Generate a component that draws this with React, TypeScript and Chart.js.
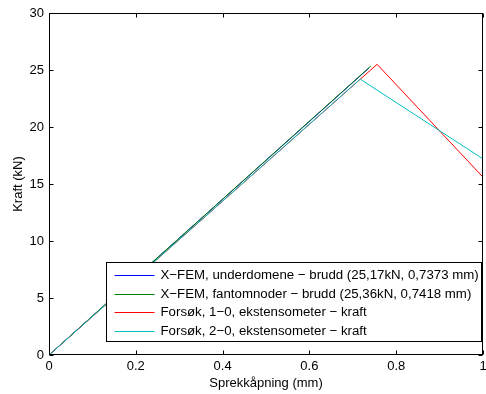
import React, { useEffect, useRef } from 'react';
import { Chart, registerables } from 'chart.js';

Chart.register(...registerables);

// Data (x: crack opening in mm, y: force in kN)
const blueX = [0, 0.7373];
const blueY = [0, 25.17];
const greenX = [0, 0.7418];
const greenY = [0, 25.36];
const redX = [0, 0.756, 1];
const redY = [0, 25.5, 15.6];
const cyanX = [0, 0.717, 1];
const cyanY = [0, 24.2, 17.2];

const seriesLabels = [
  'X\u2212FEM, underdomene \u2212 brudd (25,17kN, 0,7373 mm)',
  'X\u2212FEM, fantomnoder \u2212 brudd (25,36kN, 0,7418 mm)',
  'Fors\u00f8k, 1\u22120, ekstensometer \u2212 kraft',
  'Fors\u00f8k, 2\u22120, ekstensometer \u2212 kraft',
];
const seriesColors = ['rgb(0,0,255)', 'rgb(0,128,0)', 'rgb(255,0,0)', 'rgb(0,191,191)'];

const xTicks = [0, 0.2, 0.4, 0.6, 0.8, 1];
const xTickLabels = ['0', '0.2', '0.4', '0.6', '0.8', '1'];
const yTicks = [0, 5, 10, 15, 20, 25, 30];
const yTickLabels = ['0', '5', '10', '15', '20', '25', '30'];

const xTitle = 'Sprekkåpning (mm)';
const yTitle = 'Kraft (kN)';

const FONT = '"Liberation Sans", Arial, Helvetica, sans-serif';

const toPoints = (xs: number[], ys: number[]) => xs.map((x, i) => ({ x, y: ys[i] }));

const framePlugin = {
  id: 'matlabFrame',
  afterDatasetsDraw(chart: any) {
    const { ctx, chartArea: a, scales } = chart;
    const x = scales.x;
    const y = scales.y;
    const L = Math.round(a.left) + 0.5;
    const R = Math.round(a.right) - 0.5;
    const T = Math.round(a.top) + 0.5;
    const B = Math.round(a.bottom) - 0.5;
    ctx.save();
    ctx.strokeStyle = '#000';
    ctx.lineWidth = 1;
    ctx.beginPath();
    const tl = 4;
    xTicks.forEach((v) => {
      const px = Math.round(x.getPixelForValue(v)) + 0.5;
      ctx.moveTo(px, B);
      ctx.lineTo(px, B - tl);
      ctx.moveTo(px, T);
      ctx.lineTo(px, T + tl);
    });
    yTicks.forEach((v) => {
      const py = Math.round(y.getPixelForValue(v)) + 0.5;
      ctx.moveTo(L, py);
      ctx.lineTo(L + tl, py);
      ctx.moveTo(R, py);
      ctx.lineTo(R - tl, py);
    });
    ctx.stroke();
    ctx.strokeRect(L, T, R - L, B - T);

    // Legend box (MATLAB style, lower right inside axes)
    ctx.font = '13.25px ' + FONT;
    const maxW = Math.max(...seriesLabels.map((s) => ctx.measureText(s).width));
    const padL = 8;
    const lineLen = 40;
    const gap = 6;
    const padR = 3;
    const boxW = padL + lineLen + gap + maxW + padR;
    const rowH = 18.7;
    const boxH = 80;
    const boxRight = Math.round(a.right) - 1.5;
    const boxBottom = Math.round(a.bottom) - 13.5;
    const boxLeft = Math.round(boxRight - boxW) + 0.5;
    const boxTop = Math.round(boxBottom - boxH) + 0.5;
    ctx.fillStyle = '#fff';
    ctx.fillRect(boxLeft, boxTop, boxRight - boxLeft, boxBottom - boxTop);
    ctx.strokeStyle = '#000';
    ctx.strokeRect(boxLeft, boxTop, boxRight - boxLeft, boxBottom - boxTop);
    ctx.textBaseline = 'middle';
    ctx.textAlign = 'left';
    seriesLabels.forEach((label, i) => {
      const cy = Math.round(boxTop + 12.5 + i * rowH) + 0.5;
      ctx.strokeStyle = seriesColors[i];
      ctx.beginPath();
      ctx.moveTo(boxLeft + padL, cy);
      ctx.lineTo(boxLeft + padL + lineLen, cy);
      ctx.stroke();
      ctx.fillStyle = '#000';
      ctx.fillText(label, boxLeft + padL + lineLen + gap, cy);
    });
    ctx.restore();
  },
};

export default function App() {
  const ref = useRef<HTMLCanvasElement | null>(null);
  useEffect(() => {
    document.body.style.margin = '0';
    const canvas = ref.current;
    if (!canvas) return;
    const xs = [blueX, greenX, redX, cyanX];
    const ys = [blueY, greenY, redY, cyanY];
    const chart = new Chart(canvas, {
      type: 'scatter',
      data: {
        datasets: seriesLabels.map((label, i) => ({
          label,
          data: toPoints(xs[i], ys[i]),
          showLine: true,
          borderColor: seriesColors[i],
          backgroundColor: seriesColors[i],
          borderWidth: 1,
          pointRadius: 0,
          pointHoverRadius: 0,
          tension: 0,
          order: 4 - i,
        })),
      },
      options: {
        animation: false,
        responsive: false,
        devicePixelRatio: 1,
        layout: { padding: { left: 0, right: 3, top: 13, bottom: 0 } },
        plugins: {
          legend: { display: false },
          tooltip: { enabled: false },
        },
        scales: {
          x: {
            type: 'linear',
            min: 0,
            max: 1,
            grid: { display: false, drawTicks: false },
            border: { display: false },
            afterBuildTicks: (s: any) => {
              s.ticks = xTicks.map((v) => ({ value: v }));
            },
            afterFit: (s: any) => {
              s.height = 39;
              s.paddingLeft = 0;
              s.paddingRight = 0;
            },
            ticks: {
              autoSkip: false,
              maxRotation: 0,
              padding: 4,
              color: '#000',
              font: { family: FONT, size: 13 },
              callback: (v: any) => {
                const idx = xTicks.indexOf(Number(v));
                return idx >= 0 ? xTickLabels[idx] : '';
              },
            },
            title: {
              display: true,
              text: xTitle,
              color: '#000',
              font: { family: FONT, size: 13 },
              padding: { top: 0, bottom: 3 },
            },
          },
          y: {
            type: 'linear',
            min: 0,
            max: 30,
            grid: { display: false, drawTicks: false },
            border: { display: false },
            afterBuildTicks: (s: any) => {
              s.ticks = yTicks.map((v) => ({ value: v }));
            },
            afterFit: (s: any) => {
              s.width = 49;
              s.paddingTop = 0;
              s.paddingBottom = 0;
            },
            ticks: {
              autoSkip: false,
              padding: 5,
              color: '#000',
              font: { family: FONT, size: 13 },
              callback: (v: any) => {
                const idx = yTicks.indexOf(Number(v));
                return idx >= 0 ? yTickLabels[idx] : '';
              },
            },
            title: {
              display: true,
              text: yTitle,
              color: '#000',
              font: { family: FONT, size: 13 },
              padding: { top: 11, bottom: 0 },
            },
          },
        },
      },
      plugins: [framePlugin],
    });
    return () => chart.destroy();
  }, []);
  return (
    <div style={{ width: 486, height: 394, background: '#fff' }}>
      <canvas ref={ref} width={486} height={394} style={{ display: 'block' }} />
    </div>
  );
}
